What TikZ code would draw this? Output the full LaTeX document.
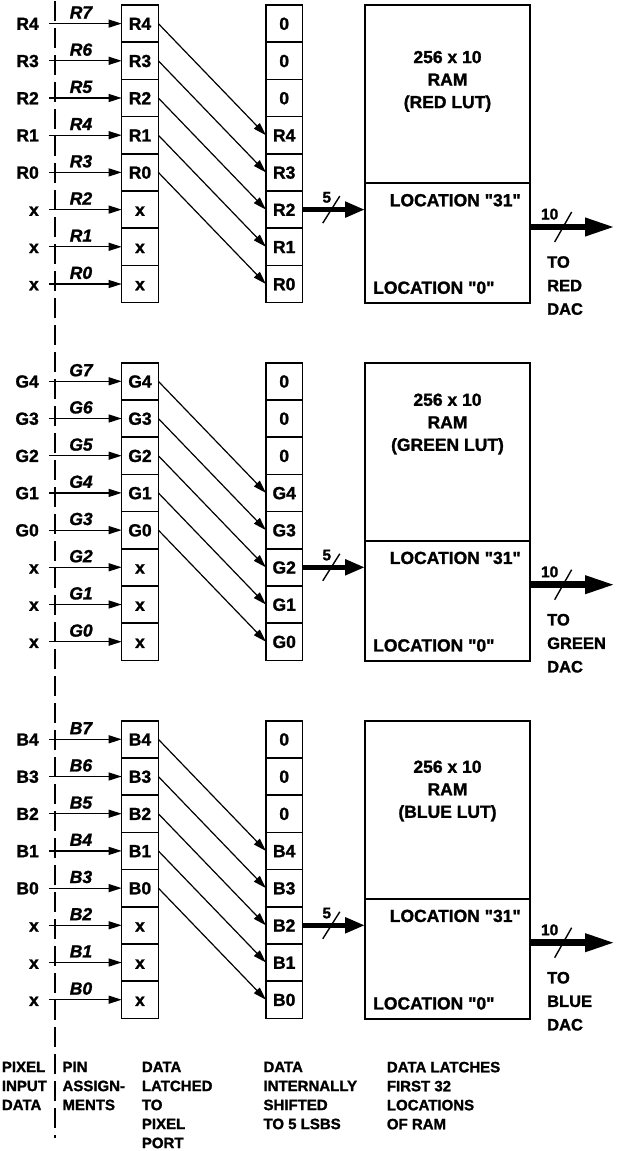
\documentclass[tikz,border=0pt]{standalone}
\usepackage{fontspec}
\setmainfont{Liberation Sans}[Ligatures=TeXOff, BoldFeatures={FakeBold=1.4}, BoldItalicFeatures={FakeBold=1.4}]
\usetikzlibrary{arrows.meta,positioning}
\tikzset{
  cell/.style={draw=black, line width=1.6pt, minimum width=36.7pt, minimum height=37.2pt, inner sep=0pt, outer sep=0pt, text height=12.5pt, text depth=0pt, font=\fontsize{17.5}{21}\selectfont\bfseries},
  lbl/.style={inner sep=0pt, text height=12.5pt, text depth=0pt, font=\fontsize{17.5}{21}\selectfont\bfseries},
  pinlbl/.style={lbl, font=\fontsize{17.5}{21}\selectfont\bfseries\itshape},
  rambox/.style={draw=black, line width=1.6pt, minimum width=165pt, inner sep=0pt, outer sep=0pt},
  ramtxt/.style={inner sep=0pt, align=center, anchor=north, font=\fontsize{17.5}{22.5}\selectfont\bfseries},
  dactxt/.style={inner sep=0pt, align=left, anchor=north west, font=\fontsize{16.5}{23.5}\selectfont\bfseries},
  coltxt/.style={inner sep=0pt, align=left, anchor=north west, font=\fontsize{15}{19}\selectfont\bfseries},
  arrow/.style={-{Triangle[length=13pt,width=8pt]}, line width=1.2pt},
  bus/.style={-{Triangle[length=20pt,width=15pt]}, line width=5pt},
  widebus/.style={-{Triangle[length=30pt,width=17pt]}, line width=6.5pt},
  slash/.style={line width=1.4pt},
  buslbl/.style={inner sep=0pt, text height=11pt, text depth=0pt, font=\fontsize{15.5}{18}\selectfont\bfseries},
  divider/.style={line width=1.7pt, dash pattern=on 20pt off 7pt}
}

\begin{document}
\begin{tikzpicture}[x=1pt, y=-1pt]
\useasboundingbox (0,0) rectangle (616,1151);
\coordinate (dtop) at (55,1);
\coordinate (dbot) at (55,1138);
\draw[divider] (dtop) -- (dbot);

\foreach \cc/\lutname/\yo/\ty in {R/RED/5/52, G/GREEN/362.7/37, B/BLUE/720.7/46}{
  % latched and shifted cells
  \foreach \i in {0,...,7}{
    \pgfmathtruncatemacro\nin{4-\i}
    \pgfmathtruncatemacro\npin{7-\i}
    \pgfmathtruncatemacro\nout{7-\i}
    \node[cell] (L\cc\i) at (140,\yo+18.6+37.2*\i) {\ifnum\i<5 \cc\nin\else x\fi};
    \node[cell] (S\cc\i) at (284.2,\yo+18.6+37.2*\i) {\ifnum\i<3 0\else\cc\nout\fi};
    \node[lbl, anchor=east] (in\cc\i) at (39,\yo+18.6+37.2*\i) {\ifnum\i<5 \cc\nin\else x\fi};
    \draw[arrow] ([xshift=10pt]in\cc\i.east) -- (L\cc\i.west)
      node[pinlbl, pos=0.44, above=4.5pt] {\cc\npin};
  }
  \foreach \i in {0,...,4}{
    \pgfmathtruncatemacro\j{\i+3}
    \draw[arrow] (L\cc\i.east) -- (S\cc\j.west);
  }
  % lookup table
  \node[rambox, minimum height=178pt, anchor=north west] (ramtop\cc) at (365,\yo) {};
  \node[rambox, minimum height=120pt, below=0pt of ramtop\cc] (ramlow\cc) {};
  \node[ramtxt] (ramlbl\cc) at (447.5,\yo+\ty-6.3) {256 x 10\\RAM\\(\lutname{} LUT)};
  \node[lbl, anchor=east] (loc31\cc) at (521,\yo+195) {LOCATION "31"};
  \node[lbl, anchor=west] (loc0\cc) at (373,\yo+282.5) {LOCATION "0"};

  \draw[bus] (S\cc5.east) -- coordinate[pos=0.46] (s5\cc) (S\cc5.east -| ramlow\cc.west);
  \draw[slash] ([shift={(-8.5,13.5)}]s5\cc) -- ([shift={(8.5,-13.5)}]s5\cc);
  \node[buslbl] (w5\cc) at ([shift={(-4.5,-12.5)}]s5\cc) {5};

  \coordinate (out\cc) at (615,\yo+222);
  \draw[widebus] (out\cc -| ramlow\cc.east) -- coordinate[pos=0.39] (s10\cc) (out\cc);
  \draw[slash] ([shift={(-8.5,15)}]s10\cc) -- ([shift={(8.5,-15)}]s10\cc);
  \node[buslbl] (w10\cc) at ([shift={(-13.5,-13)}]s10\cc) {10};
  \node[dactxt] (dac\cc) at (547,\yo+251) {TO\\\lutname\\DAC};
}

\node[coltxt] (pixin) at (1.7,1061.6) {PIXEL\\INPUT\\DATA};
\node[coltxt] (pins) at (62.3,1061.6) {PIN\\ASSIGN-\\MENTS};
\node[coltxt] (latched) at (141.7,1061.6) {DATA\\LATCHED\\TO\\PIXEL\\PORT};
\node[coltxt] (shifted) at (263.3,1061.6) {DATA\\INTERNALLY\\SHIFTED\\TO 5 LSBS};
\node[coltxt] (first) at (386.7,1061.6) {DATA LATCHES\\FIRST 32\\LOCATIONS\\OF RAM};
\end{tikzpicture}
\end{document}
